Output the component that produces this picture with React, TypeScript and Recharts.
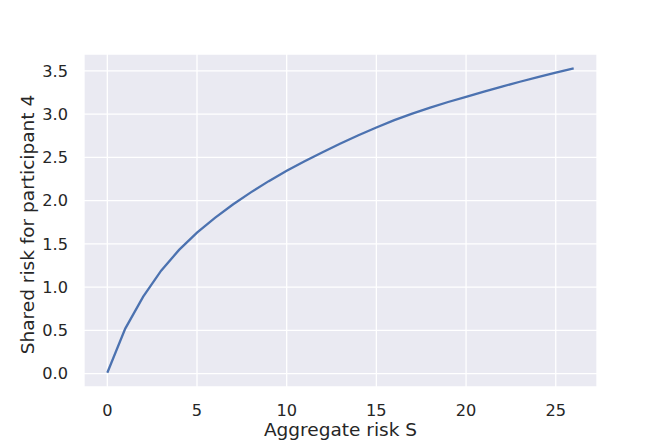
import React from 'react';
import { LineChart, Line, XAxis, YAxis, CartesianGrid } from 'recharts';

// aggregate risk S and the share carried by participant 4
const aggregateRisk = [
  0, 1, 2, 3, 4, 5, 6, 7, 8, 9, 10, 11, 12, 13, 14, 15, 16, 17, 18, 19, 20, 21, 22, 23, 24, 25, 26,
];
const sharedRisk = [
  0.01, 0.52, 0.89, 1.19, 1.43, 1.63, 1.8, 1.955, 2.095, 2.225, 2.345, 2.455, 2.56, 2.66, 2.755,
  2.845, 2.93, 3.005, 3.075, 3.14, 3.2, 3.26, 3.318, 3.374, 3.428, 3.48, 3.53,
];
const xTicks = [0, 5, 10, 15, 20, 25];
const yTicks = [0, 0.5, 1, 1.5, 2, 2.5, 3, 3.5];

const data = aggregateRisk.map((s, i) => ({ s, share: sharedRisk[i] }));

const FONT = '"DejaVu Sans", sans-serif';
const TEXT = '#262626';

const XLabel = (props: any) => {
  const vb = props.viewBox;
  return (
    <text x={vb.x + vb.width / 2} y={vb.y + 48.5} textAnchor="middle" fontSize={18.5} fontFamily={FONT} fill={TEXT}>
      Aggregate risk S
    </text>
  );
};

const YLabel = (props: any) => {
  const vb = props.viewBox;
  const x = 33.5;
  const y = vb.y + vb.height / 2 + 4;
  return (
    <text x={x} y={y} transform={`rotate(-90, ${x}, ${y})`} textAnchor="middle" fontSize={18.5} fontFamily={FONT} fill={TEXT}>
      Shared risk for participant 4
    </text>
  );
};

export default function App() {
  return (
    <div style={{ position: 'absolute', left: 0, top: 0, width: 664, height: 443, background: '#fff' }}>
      <LineChart width={664} height={443} data={data} margin={{ top: 54, right: 67, bottom: 0, left: 0 }}>
        <CartesianGrid fill="#EAEAF2" stroke="#fff" strokeWidth={1.3} />
        <XAxis
          dataKey="s"
          type="number"
          domain={[-1.3, 27.3]}
          ticks={xTicks}
          allowDataOverflow
          height={56}
          axisLine={false}
          tickLine={false}
          tickSize={0}
          tickMargin={17}
          tick={{ fontSize: 16.2, fontFamily: FONT, fill: TEXT }}
          label={<XLabel />}
        />
        <YAxis
          type="number"
          domain={[-0.155, 3.695]}
          ticks={yTicks}
          allowDataOverflow
          width={84}
          axisLine={false}
          tickLine={false}
          tickSize={0}
          tickMargin={16}
          tickFormatter={(v: number) => v.toFixed(1)}
          tick={{ fontSize: 16.2, fontFamily: FONT, fill: TEXT }}
          label={<YLabel />}
        />
        <Line
          type="linear"
          dataKey="share"
          stroke="#4C72B0"
          strokeWidth={2.3}
          dot={false}
          isAnimationActive={false}
        />
      </LineChart>
    </div>
  );
}
